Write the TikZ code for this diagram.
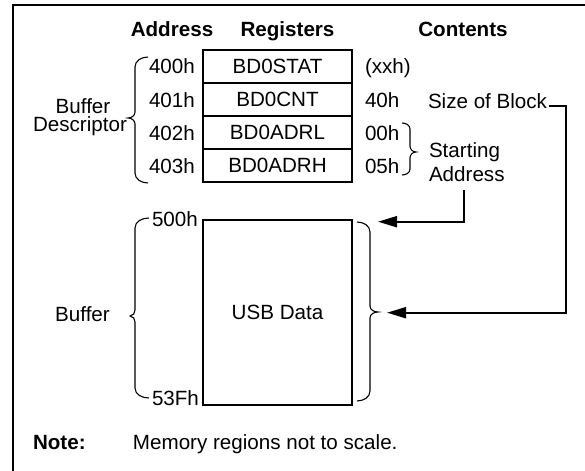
\documentclass[tikz,border=0pt]{standalone}
\usepackage{fontspec}
\setmainfont{Liberation Sans}
\usetikzlibrary{arrows.meta,calc}
\tikzset{
  lbl/.style={inner sep=0pt, outer sep=0pt},
  regbox/.style={draw, line width=1pt, minimum width=74.5pt, minimum height=16.5pt, inner sep=0pt, text height=7.4pt, text depth=0pt},
  bufbox/.style={draw, line width=1pt, minimum width=74.5pt, minimum height=92.5pt, inner sep=0pt},
  conn/.style={line width=1pt, -{Triangle[length=9.5pt,width=5.5pt]}},
  brc/.style={line width=0.55pt},
  frameline/.style={line width=0.9pt}
}
% left-pointing brace: base x, line x, tip x, top y, tip y, bottom y, corner r
\newcommand{\myBraceL}[7]{%
  \draw[brc] (#1,#4) to[out=180,in=90] (#2,#4+#7) -- (#2,#5-6) to[out=-90,in=0] (#3,#5)
    to[out=0,in=90] (#2,#5+6) -- (#2,#6-#7) to[out=-90,in=180] (#1,#6);}
% right-pointing brace
\newcommand{\myBraceR}[7]{%
  \draw[brc] (#1,#4) to[out=0,in=90] (#2,#4+#7) -- (#2,#5-6) to[out=-90,in=180] (#3,#5)
    to[out=180,in=90] (#2,#5+6) -- (#2,#6-#7) to[out=-90,in=0] (#1,#6);}
\begin{document}
\begin{tikzpicture}[x=0.5pt,y=-0.5pt,font=\fontsize{10.3}{12}\selectfont]
\useasboundingbox (0,0) rectangle (585,471);
% frame
\draw[frameline] (13,475) -- (13,5) -- (590,5);
% headers
\node[lbl,anchor=base] (hAddr) at (172,36) {\bfseries Address};
\node[lbl,anchor=base] (hReg) at (287.5,36) {\bfseries Registers};
\node[lbl,anchor=base] (hCont) at (463,36) {\bfseries Contents};
% registers
\node[regbox] (r1) at (277.5,66.5) {BD0STAT};
\node[regbox] (r2) at (277.5,99.5) {BD0CNT};
\node[regbox] (r3) at (277.5,132.5) {BD0ADRL};
\node[regbox] (r4) at (277.5,165.5) {BD0ADRH};
% addresses
\node[lbl,anchor=base west] (a1) at (149,74) {400h};
\node[lbl,anchor=base west] (a2) at (149,107.5) {401h};
\node[lbl,anchor=base west] (a3) at (149,140.5) {402h};
\node[lbl,anchor=base west] (a4) at (149,173.5) {403h};
% contents
\node[lbl,anchor=base west] (c1) at (365,74) {(xxh)};
\node[lbl,anchor=base west] (c2) at (365,107.5) {40h};
\node[lbl,anchor=base west] (c3) at (365,140.5) {00h};
\node[lbl,anchor=base west] (c4) at (365,173.5) {05h};
% labels
\node[lbl,anchor=base] (bd1) at (83,113) {Buffer};
\node[lbl,anchor=base] (bd2) at (80,132) {Descriptor};
\node[lbl,anchor=base west] (size) at (428,108) {Size of Block};
\node[lbl,anchor=base west] (st1) at (429,157) {Starting};
\node[lbl,anchor=base west] (st2) at (429,181) {Address};
% buffer
\node[bufbox] (buf) at (277.5,312.5) {USB Data};
\node[lbl,anchor=base west] (b500) at (152,227) {500h};
\node[lbl,anchor=base west] (b53f) at (152,405) {53Fh};
\node[lbl,anchor=base] (bufl) at (82.5,321) {Buffer};
% note
\node[lbl,anchor=base west] (note) at (33,449) {\bfseries Note:};
\node[lbl,anchor=base west] (notet) at (133,449) {Memory regions not to scale.};
% braces
\myBraceL{148}{135}{128}{57}{118}{183}{10}
\myBraceL{149}{135}{130}{218}{316}{398}{10}
\myBraceR{357}{370}{378}{222}{312}{401}{10}
\myBraceR{402}{410}{416}{123}{152}{175}{6}
% connectors
\coordinate (tipA) at (378,221.7);
\coordinate (tipB) at (387,312.7);
\draw[conn] ($(st2.south)+(-3,9)$) |- (tipA);
\draw[conn] ($(size.base east)+(2,-2)$) -| (566,312.7) -- (tipB);
\end{tikzpicture}
\end{document}
